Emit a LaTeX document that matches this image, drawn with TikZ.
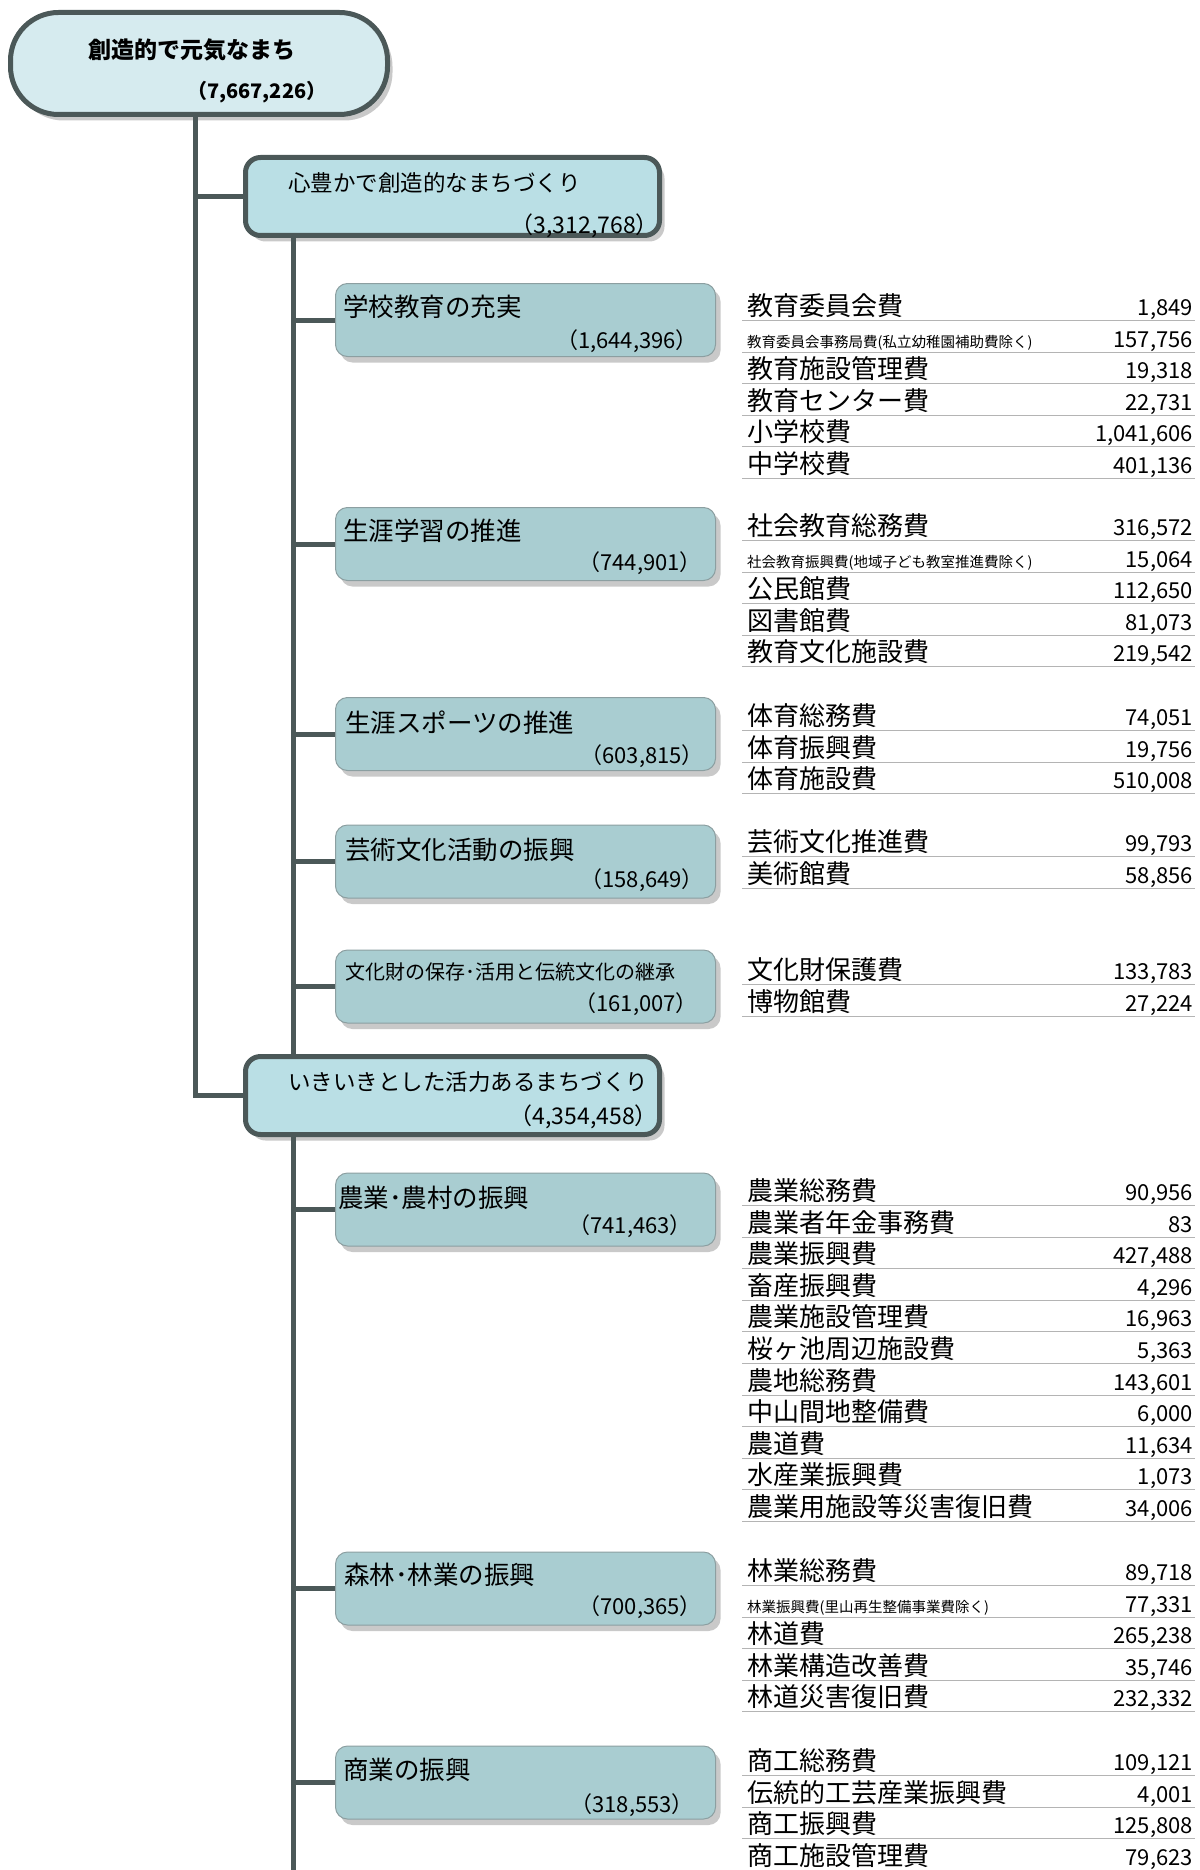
\documentclass[tikz,border=0pt]{standalone}
\usepackage{fontspec}
\setmainfont{Noto Sans CJK JP}
\usetikzlibrary{shadows}

\definecolor{rootfill}{HTML}{D6EBEF}
\definecolor{midfill}{HTML}{BADFE5}
\definecolor{subfill}{HTML}{A9CDD1}
\definecolor{linedark}{HTML}{4B5858}
\definecolor{subedge}{HTML}{8C9FA1}
\definecolor{rulegray}{HTML}{B4B4B4}

\newcommand{\fsz}[1]{\fontsize{#1pt}{#1pt}\selectfont}

\tikzset{
  trunk/.style={draw=linedark, line width=5pt},
  shadowed/.style={drop shadow={shadow xshift=5pt, shadow yshift=-6pt, fill=black!30, opacity=.7}},
  rootbox/.style={shadowed, draw=linedark, line width=5pt, fill=rootfill, rounded corners=48pt,
    minimum width=377pt, minimum height=102pt, inner sep=0pt},
  midbox/.style={shadowed, draw=linedark, line width=5pt, fill=midfill, rounded corners=15pt,
    minimum width=414pt, minimum height=78pt, inner sep=0pt},
  subbox/.style={shadowed, draw=subedge, line width=1pt, fill=subfill, rounded corners=12pt,
    minimum width=380pt, minimum height=73pt, inner sep=0pt},
  roottitle/.style={font=\fsz{23}\bfseries, inner sep=0pt, anchor=west},
  rootsum/.style={font=\fsz{20}\bfseries, inner sep=0pt, anchor=west},
  midtitle/.style={font=\fsz{22.5}, inner sep=0pt, anchor=west},
  midsum/.style={font=\fsz{23}, inner sep=0pt, anchor=east},
  subtitle/.style={font=\fsz{25.5}, inner sep=0pt, anchor=west},
  subsum/.style={font=\fsz{22}, inner sep=0pt, anchor=east},
  item/.style={font=\fsz{26}, inner sep=0pt, anchor=base west},
  amount/.style={font=\fsz{22}, inner sep=0pt, anchor=base east},
  rowrule/.style={draw=rulegray, line width=.9pt}
}

\begin{document}
\begin{tikzpicture}[x=1pt, y=-1pt]
        \useasboundingbox (0,0) rectangle (1199,1870);

        \node[rootbox] (root) at (199,63.5) {};
        \node[roottitle] (roott) at (88,50) {創造的で元気なまち};
        \node[rootsum] (roots) at (187,92) {（7,667,226）};

        \node[midbox] (heart) at (452.5,196.5) {};
        \node[midtitle] (heartt) at (288,183) {心豊かで創造的なまちづくり};
        \node[midsum] (hearts) at (659,226) {（3,312,768）};

        \node[midbox] (vital) at (452.5,1095.5) {};
        \node[midtitle] (vitalt) at (288,1082) {いきいきとした活力あるまちづくり};
        \node[midsum] (vitals) at (658,1117) {（4,354,458）};

        \node[subbox] (school) at (525.5,320) {};
        \node[subbox] (lifelong) at (525.5,544) {};
        \node[subbox] (sports) at (525.5,734) {};
        \node[subbox] (arts) at (525.5,861.5) {};
        \node[subbox] (heritage) at (525.5,986.5) {};
        \node[subbox] (farm) at (525.5,1209.5) {};
        \node[subbox] (forest) at (525.5,1588.5) {};
        \node[subbox] (commerce) at (525.5,1782.5) {};

        \node[subtitle] (schoolt) at ([xshift=8pt,yshift=-24pt]school.north west) {学校教育の充実};
        \node[subsum] (schools) at ([xshift=-18pt,yshift=16pt]school.south east) {（1,644,396）};
        \node[subtitle] (lifelongt) at ([xshift=8pt,yshift=-24pt]lifelong.north west) {生涯学習の推進};
        \node[subsum] (lifelongs) at ([xshift=-14pt,yshift=18pt]lifelong.south east) {（744,901）};
        \node[subtitle] (sportst) at ([xshift=10pt,yshift=-26pt]sports.north west) {生涯スポーツの推進};
        \node[subsum] (sportss) at ([xshift=-12pt,yshift=15pt]sports.south east) {（603,815）};
        \node[subtitle] (artst) at ([xshift=10pt,yshift=-25pt]arts.north west) {芸術文化活動の振興};
        \node[subsum] (artss) at ([xshift=-12pt,yshift=18pt]arts.south east) {（158,649）};
        \node[subtitle, font=\fsz{20}] (heritaget) at ([xshift=10pt,yshift=-22pt]heritage.north west) {文化財の保存･活用と伝統文化の継承};
        \node[subsum] (heritages) at ([xshift=-18pt,yshift=19pt]heritage.south east) {（161,007）};
        \node[subtitle] (farmt) at ([xshift=3pt,yshift=-25pt]farm.north west) {農業･農村の振興};
        \node[subsum] (farms) at ([xshift=-24pt,yshift=20pt]farm.south east) {（741,463）};
        \node[subtitle] (forestt) at ([xshift=9pt,yshift=-23pt]forest.north west) {森林･林業の振興};
        \node[subsum] (forests) at ([xshift=-14pt,yshift=18pt]forest.south east) {（700,365）};
        \node[subtitle] (commercet) at ([xshift=8pt,yshift=-24pt]commerce.north west) {商業の振興};
        \node[subsum] (commerces) at ([xshift=-22pt,yshift=14pt]commerce.south east) {（318,553）};

        \coordinate (t0) at ([xshift=-4pt]root.south);
        \coordinate (t1) at ([xshift=50pt]heart.south west);
        \coordinate (t2) at ([xshift=50pt]vital.south west);
        \coordinate (tend) at (t2 |- 0,1880);

        \draw[trunk] (t0) |- (vital.west);
        \draw[trunk] (t0 |- heart.west) -- (heart.west);
        \draw[trunk] (t1) -- (t1 |- vital.north);
        \draw[trunk] (t1 |- school.west) -- (school.west);
        \draw[trunk] (t1 |- lifelong.west) -- (lifelong.west);
        \draw[trunk] (t1 |- sports.west) -- (sports.west);
        \draw[trunk] (t1 |- arts.west) -- (arts.west);
        \draw[trunk] (t1 |- heritage.west) -- (heritage.west);
        \draw[trunk] (t2) -- (tend);
        \draw[trunk] (t2 |- farm.west) -- (farm.west);
        \draw[trunk] (t2 |- forest.west) -- (forest.west);
        \draw[trunk] (t2 |- commerce.west) -- (commerce.west);

        \foreach \t/\v [count=\i] in {教育委員会費/{1,849}, {\fsz{14.5}教育委員会事務局費(私立幼稚園補助費除く)}/{157,756},
            教育施設管理費/{19,318}, 教育センター費/{22,731}, 小学校費/{1,041,606}, 中学校費/{401,136}} {
          \pgfmathsetmacro\yy{307+31.6*(\i-1)+8.5}
          \node[item] (schooln\i) at (747,\yy) {\t};
          \node[amount] (schoolv\i) at (1193,\yy) {\v};
          \draw[rowrule] (742,\yy+5) -- (1195,\yy+5);
        }
        \foreach \t/\v [count=\i] in {社会教育総務費/{316,572}, {\fsz{14.5}社会教育振興費(地域子ども教室推進費除く)}/{15,064},
            公民館費/{112,650}, 図書館費/{81,073}, 教育文化施設費/{219,542}} {
          \pgfmathsetmacro\yy{527+31.6*(\i-1)+8.5}
          \node[item] (lifelongn\i) at (747,\yy) {\t};
          \node[amount] (lifelongv\i) at (1193,\yy) {\v};
          \draw[rowrule] (742,\yy+5) -- (1195,\yy+5);
        }
        \foreach \t/\v [count=\i] in {体育総務費/{74,051}, 体育振興費/{19,756}, 体育施設費/{510,008}} {
          \pgfmathsetmacro\yy{717+31.6*(\i-1)+8.5}
          \node[item] (sportsn\i) at (747,\yy) {\t};
          \node[amount] (sportsv\i) at (1193,\yy) {\v};
          \draw[rowrule] (742,\yy+5) -- (1195,\yy+5);
        }
        \foreach \t/\v [count=\i] in {芸術文化推進費/{99,793}, 美術館費/{58,856}} {
          \pgfmathsetmacro\yy{843+31.6*(\i-1)+8.5}
          \node[item] (artsn\i) at (747,\yy) {\t};
          \node[amount] (artsv\i) at (1193,\yy) {\v};
          \draw[rowrule] (742,\yy+5) -- (1195,\yy+5);
        }
        \foreach \t/\v [count=\i] in {文化財保護費/{133,783}, 博物館費/{27,224}} {
          \pgfmathsetmacro\yy{971+31.6*(\i-1)+8.5}
          \node[item] (heritagen\i) at (747,\yy) {\t};
          \node[amount] (heritagev\i) at (1193,\yy) {\v};
          \draw[rowrule] (742,\yy+5) -- (1195,\yy+5);
        }
        \foreach \t/\v [count=\i] in {農業総務費/{90,956}, 農業者年金事務費/{83}, 農業振興費/{427,488}, 畜産振興費/{4,296},
            農業施設管理費/{16,963}, 桜ヶ池周辺施設費/{5,363}, 農地総務費/{143,601}, 中山間地整備費/{6,000},
            農道費/{11,634}, 水産業振興費/{1,073}, 農業用施設等災害復旧費/{34,006}} {
          \pgfmathsetmacro\yy{1192+31.6*(\i-1)+8.5}
          \node[item] (farmn\i) at (747,\yy) {\t};
          \node[amount] (farmv\i) at (1193,\yy) {\v};
          \draw[rowrule] (742,\yy+5) -- (1195,\yy+5);
        }
        \foreach \t/\v [count=\i] in {林業総務費/{89,718}, {\fsz{14.5}林業振興費(里山再生整備事業費除く)}/{77,331},
            林道費/{265,238}, 林業構造改善費/{35,746}, 林道災害復旧費/{232,332}} {
          \pgfmathsetmacro\yy{1572+31.6*(\i-1)+8.5}
          \node[item] (forestn\i) at (747,\yy) {\t};
          \node[amount] (forestv\i) at (1193,\yy) {\v};
          \draw[rowrule] (742,\yy+5) -- (1195,\yy+5);
        }
        \foreach \t/\v [count=\i] in {商工総務費/{109,121}, 伝統的工芸産業振興費/{4,001}, 商工振興費/{125,808}, 商工施設管理費/{79,623}} {
          \pgfmathsetmacro\yy{1762+31.6*(\i-1)+8.5}
          \node[item] (commercen\i) at (747,\yy) {\t};
          \node[amount] (commercev\i) at (1193,\yy) {\v};
          \draw[rowrule] (742,\yy+5) -- (1195,\yy+5);
        }
\end{tikzpicture}
\end{document}
